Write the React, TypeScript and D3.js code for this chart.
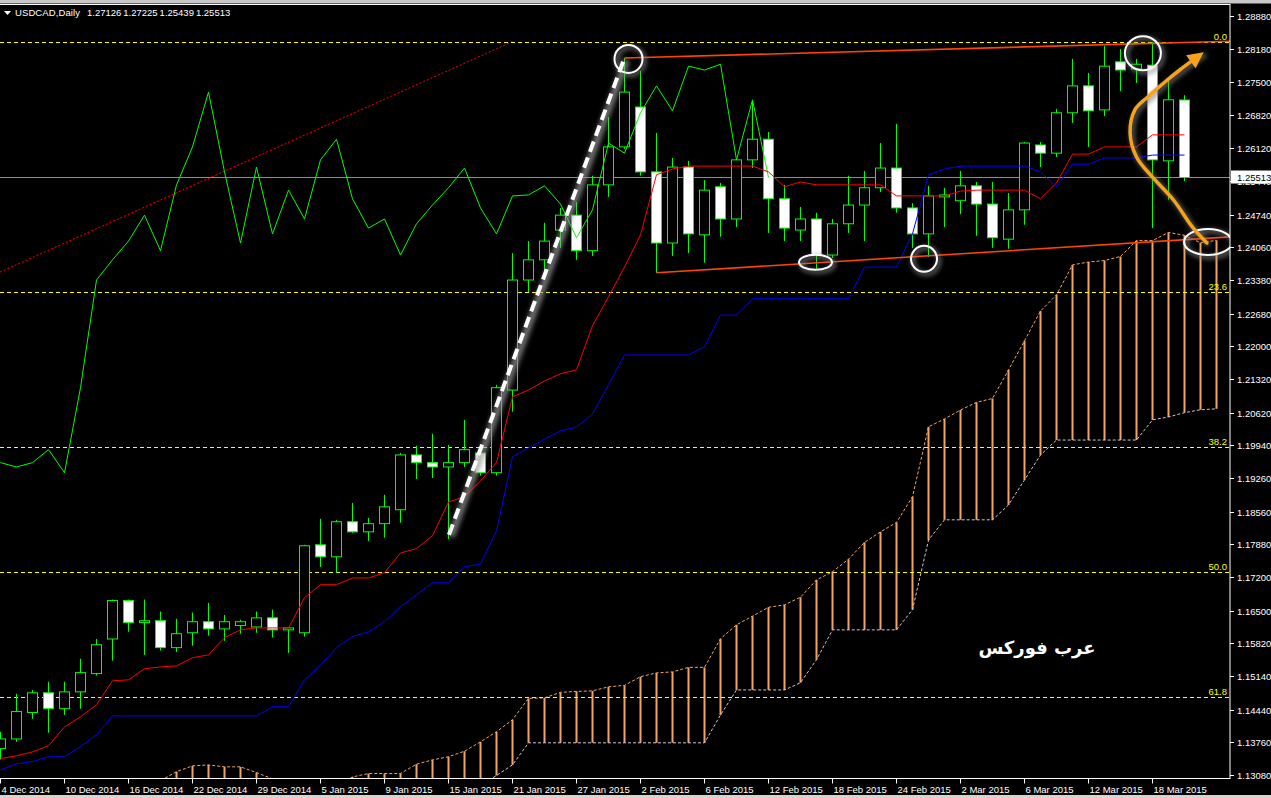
import React from 'react';
import * as d3 from 'd3';

const W = 1271;
const H = 798;

// Daily bars, 4 Dec 2014 .. 20 Mar 2015
const barDates = [
  '2014-12-04', '2014-12-05', '2014-12-08', '2014-12-09', '2014-12-10', '2014-12-11', '2014-12-12', '2014-12-15', '2014-12-16', '2014-12-17',
  '2014-12-18', '2014-12-19', '2014-12-22', '2014-12-23', '2014-12-24', '2014-12-26', '2014-12-29', '2014-12-30', '2014-12-31', '2015-01-02',
  '2015-01-05', '2015-01-06', '2015-01-07', '2015-01-08', '2015-01-09', '2015-01-12', '2015-01-13', '2015-01-14', '2015-01-15', '2015-01-16',
  '2015-01-19', '2015-01-20', '2015-01-21', '2015-01-22', '2015-01-23', '2015-01-26', '2015-01-27', '2015-01-28', '2015-01-29', '2015-01-30',
  '2015-02-02', '2015-02-03', '2015-02-04', '2015-02-05', '2015-02-06', '2015-02-09', '2015-02-10', '2015-02-11', '2015-02-12', '2015-02-13',
  '2015-02-16', '2015-02-17', '2015-02-18', '2015-02-19', '2015-02-20', '2015-02-23', '2015-02-24', '2015-02-25', '2015-02-26', '2015-02-27',
  '2015-03-02', '2015-03-03', '2015-03-04', '2015-03-05', '2015-03-06', '2015-03-09', '2015-03-10', '2015-03-11', '2015-03-12', '2015-03-13',
  '2015-03-16', '2015-03-17', '2015-03-18', '2015-03-19', '2015-03-20',
];

const opens = [
  1.1363, 1.1383, 1.1438, 1.1479, 1.1446, 1.1481, 1.1519, 1.1591, 1.1671, 1.1625,
  1.1629, 1.1573, 1.1604, 1.1627, 1.1612, 1.1619, 1.1616, 1.1635, 1.1610, 1.1604,
  1.1787, 1.1762, 1.1835, 1.1814, 1.1831, 1.1860, 1.1974, 1.1958, 1.1949, 1.1958,
  1.1978, 1.1937, 1.2109, 1.2338, 1.2380, 1.2442, 1.2473, 1.2399, 1.2536, 1.2615,
  1.2698, 1.2563, 1.2415, 1.2573, 1.2432, 1.2532, 1.2465, 1.2588, 1.2631, 1.2507,
  1.2442, 1.2465, 1.2390, 1.2455, 1.2494, 1.2530, 1.2571, 1.2488, 1.2434, 1.2511,
  1.2503, 1.2534, 1.2496, 1.2423, 1.2484, 1.2619, 1.2602, 1.2686, 1.2742, 1.2692,
  1.2792, 1.2777, 1.2785, 1.2586, 1.27126,
];
const highs = [
  1.1398, 1.1477, 1.1485, 1.1502, 1.1502, 1.1550, 1.1591, 1.1673, 1.1673, 1.1673,
  1.1648, 1.1633, 1.1646, 1.1666, 1.1641, 1.1631, 1.1648, 1.1652, 1.1616, 1.1787,
  1.1841, 1.1839, 1.1874, 1.1843, 1.1891, 1.1978, 1.1993, 1.2018, 1.1995, 1.2047,
  1.1985, 1.2120, 1.2394, 1.2419, 1.2457, 1.2488, 1.2500, 1.2555, 1.2677, 1.2800,
  1.2773, 1.2644, 1.2592, 1.2586, 1.2546, 1.2540, 1.2592, 1.2711, 1.2646, 1.2536,
  1.2490, 1.2478, 1.2465, 1.2555, 1.2565, 1.2623, 1.2663, 1.2498, 1.2534, 1.2530,
  1.2565, 1.2542, 1.2542, 1.2519, 1.2625, 1.2625, 1.2694, 1.2798, 1.2769, 1.2825,
  1.2819, 1.2798, 1.2833, 1.2754, 1.27225,
];
const lows = [
  1.1340, 1.1377, 1.1425, 1.1396, 1.1433, 1.1446, 1.1515, 1.1546, 1.1606, 1.1558,
  1.1567, 1.1564, 1.1577, 1.1598, 1.1587, 1.1602, 1.1604, 1.1594, 1.1562, 1.1596,
  1.1741, 1.1729, 1.1812, 1.1795, 1.1802, 1.1833, 1.1924, 1.1926, 1.1799, 1.1949,
  1.1931, 1.1931, 1.2064, 1.2313, 1.2338, 1.2405, 1.2380, 1.2388, 1.2511, 1.2611,
  1.2555, 1.2353, 1.2388, 1.2394, 1.2374, 1.2428, 1.2448, 1.2571, 1.2436, 1.2419,
  1.2419, 1.2361, 1.2384, 1.2436, 1.2419, 1.2521, 1.2478, 1.2405, 1.2386, 1.2448,
  1.2475, 1.2430, 1.2405, 1.2403, 1.2453, 1.2573, 1.2594, 1.2665, 1.2615, 1.2679,
  1.2731, 1.2748, 1.2446, 1.2505, 1.25439,
];
const closes = [
  1.1383, 1.1440, 1.1479, 1.1446, 1.1481, 1.1521, 1.1579, 1.1671, 1.1625, 1.1629,
  1.1573, 1.1602, 1.1627, 1.1612, 1.1627, 1.1627, 1.1635, 1.1610, 1.1614, 1.1785,
  1.1762, 1.1835, 1.1814, 1.1831, 1.1866, 1.1974, 1.1958, 1.1949, 1.1958, 1.1985,
  1.1937, 1.2114, 1.2338, 1.2380, 1.2419, 1.2473, 1.2399, 1.2536, 1.2615, 1.2729,
  1.2563, 1.2415, 1.2573, 1.2434, 1.2525, 1.2465, 1.2588, 1.2631, 1.2507, 1.2446,
  1.2465, 1.2390, 1.2455, 1.2494, 1.2530, 1.2571, 1.2488, 1.2434, 1.2513, 1.2515,
  1.2534, 1.2496, 1.2426, 1.2484, 1.2623, 1.2602, 1.2686, 1.2742, 1.2690, 1.2783,
  1.2775, 1.2787, 1.2588, 1.2713, 1.25513,
];

// Ichimoku Kinko Hyo (9, 26, 52)
const tenkan = [
  1.1342, 1.1348, 1.1356, 1.1369, 1.1408, 1.1429, 1.1454, 1.1504, 1.1506, 1.1529,
  1.1533, 1.1535, 1.1552, 1.1558, 1.1594, 1.1610, 1.1614, 1.1614, 1.1614, 1.1677,
  1.1704, 1.1704, 1.1718, 1.1718, 1.1729, 1.1770, 1.1779, 1.1806, 1.1876, 1.1887,
  1.1920, 1.1958, 1.2095, 1.2109, 1.2128, 1.2143, 1.2151, 1.2243, 1.2303, 1.2365,
  1.2432, 1.2557, 1.2569, 1.2575, 1.2575, 1.2575, 1.2575, 1.2575, 1.2563, 1.2532,
  1.2542, 1.2536, 1.2536, 1.2536, 1.2536, 1.2536, 1.2513, 1.2513, 1.2513, 1.2513,
  1.2523, 1.2525, 1.2525, 1.2525, 1.2525, 1.2507, 1.2540, 1.2600, 1.2600, 1.2615,
  1.2615, 1.2615, 1.2640, 1.2640, 1.2640,
];
const kijun = [
  1.1319, 1.1331, 1.1336, 1.1346, 1.1346, 1.1367, 1.1392, 1.1431, 1.1431, 1.1431,
  1.1431, 1.1431, 1.1431, 1.1431, 1.1431, 1.1431, 1.1431, 1.1450, 1.1450, 1.1506,
  1.1537, 1.1573, 1.1596, 1.1606, 1.1627, 1.1658, 1.1683, 1.1708, 1.1708, 1.1741,
  1.1747, 1.1816, 1.1970, 1.1989, 1.2007, 1.2024, 1.2032, 1.2059, 1.2120, 1.2182,
  1.2182, 1.2182, 1.2182, 1.2182, 1.2199, 1.2265, 1.2265, 1.2299, 1.2299, 1.2299,
  1.2299, 1.2299, 1.2299, 1.2299, 1.2365, 1.2365, 1.2365, 1.2434, 1.2557, 1.2569,
  1.2575, 1.2575, 1.2575, 1.2575, 1.2575, 1.2563, 1.2532, 1.2579, 1.2579, 1.2592,
  1.2592, 1.2592, 1.2598, 1.2598, 1.2598,
];
// Senkou span A for bars 8..25 (older tenkan/kijun values are off the chart)
const spanAEarlyStart = 8;
const spanAEarly = [
  1.1270, 1.1277, 1.1296, 1.1315, 1.1327, 1.1329, 1.1325, 1.1325, 1.1313, 1.1300,
  1.1282, 1.1282, 1.1282, 1.1282, 1.1304, 1.1311, 1.1311, 1.1311,
];
// Senkou span B, bars 28..76
const spanBStart = 28;
const spanB = [
  1.1257, 1.1267, 1.1286, 1.1307, 1.1329,
  1.1375, 1.1375, 1.1375, 1.1375, 1.1375, 1.1375, 1.1375, 1.1375, 1.1375, 1.1375, 1.1375, 1.1375,
  1.1433, 1.1485, 1.1485, 1.1485, 1.1485, 1.1500, 1.1548,
  1.1610, 1.1610, 1.1610, 1.1610, 1.1610, 1.1652, 1.1797,
  1.1839, 1.1839, 1.1839, 1.1839, 1.1870, 1.1922, 1.1974,
  1.2005, 1.2005, 1.2005, 1.2005, 1.2005, 1.2005,
  1.2047, 1.2053, 1.2062, 1.2068, 1.2070,
];

const priceTicks = [
  1.2888, 1.2818, 1.2750, 1.2682, 1.2612, 1.2544, 1.2474, 1.2406, 1.2338, 1.2268, 1.2200, 1.2132,
  1.2062, 1.1994, 1.1926, 1.1856, 1.1788, 1.1720, 1.1650, 1.1582, 1.1514, 1.1444, 1.1376, 1.1308,
];

const fibLevels = [0, 23.6, 38.2, 50, 61.8];
const fibFrom = { bar: -115.4, price: 1.0627 };
const fibTo = { bar: 32, price: 1.2834 };

const upperTrend = [{ bar: 39, price: 1.2800 }, { bar: 77, price: 1.2835 }];
const lowerTrend = [{ bar: 41, price: 1.2353 }, { bar: 77, price: 1.2428 }];

const symbol = 'USDCAD,Daily';
const arabicLabel = 'عرب فوركس';

// Drawn objects (time in bars, price)
const dashedTrend = [{ bar: 28.03, price: 1.1808 }, { bar: 39.0, price: 1.2800 }];
const ellipses = [
  { bar: 39.25, price: 1.2798, rx: 14, ry: 14 },
  { bar: 50.94, price: 1.2375, rx: 16.5, ry: 7.5 },
  { bar: 57.72, price: 1.2382, rx: 13, ry: 13 },
  { bar: 71.4, price: 1.2810, rx: 18, ry: 17 },
  { bar: 75.47, price: 1.2417, rx: 24, ry: 13 },
];
const orangeCurve = [
  { bar: 75.4, price: 1.2415 },
  { bar: 74.5, price: 1.2448 },
  { bar: 73.3, price: 1.2505 },
  { bar: 72.0, price: 1.2552 },
  { bar: 71.0, price: 1.2594 },
  { bar: 70.6, price: 1.2644 },
  { bar: 70.9, price: 1.2692 },
  { bar: 71.7, price: 1.2719 },
  { bar: 72.7, price: 1.2748 },
  { bar: 73.7, price: 1.2775 },
  { bar: 75.2, price: 1.2812 },
];

const FONT = 'Liberation Sans, Arial, sans-serif';
const FS = 9.5;

export default function App() {
  const chartRight = 1230;
  const chartTop = 4.5;
  const chartBottom = 778.5;

  const x = d3.scaleLinear().domain([0, 76]).range([0.5, 1216.5]);
  const y = d3.scaleLinear().domain([1.1308, 1.2888]).range([775, 15.7]);
  const n = closes.length;
  const bars = d3.range(n);

  const line = d3
    .line<[number, number]>()
    .x((d) => x(d[0]))
    .y((d) => y(d[1]));

  const tenkanPath = line(bars.map((i) => [i, tenkan[i]] as [number, number])) || '';
  const kijunPath = line(bars.map((i) => [i, kijun[i]] as [number, number])) || '';
  const chikouPath = line(bars.map((i) => [i - 26, closes[i]] as [number, number])) || '';

  const spanA: [number, number][] = [];
  spanAEarly.forEach((p, k) => spanA.push([spanAEarlyStart + k, p]));
  for (let i = 0; i + 26 <= 76; i++) spanA.push([i + 26, (tenkan[i] + kijun[i]) / 2]);
  const spanBPts: [number, number][] = spanB.map((p, k) => [spanBStart + k, p]);
  const spanBMap = new Map<number, number>(spanBPts);
  const spanAPath = line(spanA) || '';
  const spanBPath = line(spanBPts) || '';

  const fibPrice = (lvl: number) => fibTo.price - (lvl / 100) * (fibTo.price - fibFrom.price);

  const timeFmt = d3.timeFormat('%-d %b %Y');
  const parse = d3.timeParse('%Y-%m-%d');
  const timeLabels = bars.filter((i) => i % 4 === 0).map((i) => ({ i, label: timeFmt(parse(barDates[i]) as Date) }));

  const lastClose = closes[n - 1];
  const pFmt = d3.format('.5f');

  const extend = (pts: { bar: number; price: number }[]) => {
    const [a, b] = pts;
    return { x1: x(a.bar), y1: y(a.price), x2: x(b.bar), y2: y(b.price) };
  };
  const up = extend(upperTrend);
  const lo = extend(lowerTrend);
  const fibLine = extend([fibFrom, fibTo]);
  const dl = extend(dashedTrend);

  const curvePts = orangeCurve.map((p) => [x(p.bar), y(p.price)] as [number, number]);
  const curvePath = d3.line().curve(d3.curveCatmullRom.alpha(0.5))(curvePts) || '';
  const tip = curvePts[curvePts.length - 1];
  const prev = curvePts[curvePts.length - 2];
  const dx = tip[0] - prev[0];
  const dy = tip[1] - prev[1];
  const len = Math.hypot(dx, dy);
  const ux = dx / len;
  const uy = dy / len;
  const aL = 16;
  const aW = 8;
  const bx = tip[0] - ux * aL;
  const by = tip[1] - uy * aL;
  const arrowHead = `M${tip[0]},${tip[1]} L${bx - uy * aW},${by + ux * aW} L${bx + uy * aW},${by - ux * aW} Z`;
  const curveBody = d3.line().curve(d3.curveCatmullRom.alpha(0.5))([
    ...curvePts.slice(0, -1),
    [tip[0] - ux * aL * 0.6, tip[1] - uy * aL * 0.6],
  ]) || '';

  const headerVals = [opens[n - 1], highs[n - 1], lows[n - 1], closes[n - 1]];

  return (
    <svg
      width={W}
      height={H}
      viewBox={`0 0 ${W} ${H}`}
      style={{ position: 'absolute', left: 0, top: 0, display: 'block', background: '#000' }}
    >
      <defs>
        <clipPath id="plot">
          <rect x={0} y={chartTop + 0.5} width={chartRight} height={chartBottom - chartTop - 1} />
        </clipPath>
        <filter id="glow" x="-50%" y="-50%" width="200%" height="200%">
          <feGaussianBlur stdDeviation="2.5" />
        </filter>
      </defs>
      <rect x={0} y={0} width={W} height={H} fill="#000" />
      <rect x={0} y={0} width={W} height={3.5} fill="#c8c8c8" />
      <rect x={0} y={795} width={W} height={3} fill="#d8d4c8" />

      <g clipPath="url(#plot)">
        {/* Kumo hatch */}
        {spanA.map(([j, a]) => {
          const b = spanBMap.has(j) ? (spanBMap.get(j) as number) : 1.1;
          return (
            <line
              key={`h${j}`}
              x1={x(j)}
              x2={x(j)}
              y1={y(a)}
              y2={y(b)}
              stroke={a >= b ? '#F4A460' : '#D8BFD8'}
              strokeWidth={2}
            />
          );
        })}
        <path d={spanAPath} fill="none" stroke="#F4A460" strokeWidth={1} strokeDasharray="3,2" />
        <path d={spanBPath} fill="none" stroke="#D8BFD8" strokeWidth={1} strokeDasharray="3,2" />

        {/* Fibonacci */}
        <line {...fibLine} stroke="#ff0000" strokeWidth={1} strokeDasharray="2,2" />
        {fibLevels.map((lv) => (
          <g key={`f${lv}`}>
            <line
              x1={0}
              x2={chartRight}
              y1={Math.round(y(fibPrice(lv))) + 0.5}
              y2={Math.round(y(fibPrice(lv))) + 0.5}
              stroke="#ffff00"
              strokeWidth={1}
              strokeDasharray="4,3"
            />
            <text
              x={1227}
              y={Math.round(y(fibPrice(lv))) - 2.5}
              fill="#ffff00"
              fontSize={FS}
              fontFamily={FONT}
              textAnchor="end"
            >
              {lv.toFixed(1)}
            </text>
          </g>
        ))}

        {/* current price line */}
        <line x1={0} x2={chartRight} y1={y(lastClose)} y2={y(lastClose)} stroke="#8c8c8c" strokeWidth={1} />

        {/* candles */}
        {bars.map((i) => {
          const cx = x(i);
          const o = opens[i];
          const c = closes[i];
          const bull = c >= o;
          const yt = y(Math.max(o, c));
          const yb = y(Math.min(o, c));
          return (
            <g key={`c${i}`}>
              <line x1={cx} x2={cx} y1={y(highs[i])} y2={y(lows[i])} stroke="#00ff00" strokeWidth={1} />
              <rect
                x={cx - 5}
                y={yt}
                width={10}
                height={Math.max(0.01, yb - yt)}
                fill={bull ? '#000' : '#fff'}
                stroke="#00ff00"
                strokeWidth={1}
              />
            </g>
          );
        })}

        {/* Ichimoku lines */}
        <path d={chikouPath} fill="none" stroke="#00ff00" strokeWidth={1} />
        <path d={tenkanPath} fill="none" stroke="#ff0000" strokeWidth={1} />
        <path d={kijunPath} fill="none" stroke="#0000ff" strokeWidth={1} />

        {/* channel trend lines */}
        <line {...up} stroke="#ff4500" strokeWidth={1.6} />
        <line {...lo} stroke="#ff4500" strokeWidth={1.6} />

        {/* drawn annotations */}
        <g filter="url(#glow)" opacity={0.75} transform="translate(2,2)">
          <line {...dl} stroke="#9a9a9a" strokeWidth={7} />
          {ellipses.map((e, k) => (
            <ellipse key={`ge${k}`} cx={x(e.bar)} cy={y(e.price)} rx={e.rx} ry={e.ry} fill="none" stroke="#8a8a8a" strokeWidth={4} />
          ))}
          <path d={curvePath} fill="none" stroke="#7a7a7a" strokeWidth={5} />
        </g>
        <line {...dl} stroke="#ffffff" strokeWidth={4} strokeDasharray="11,6" />
        {ellipses.map((e, k) => (
          <ellipse key={`e${k}`} cx={x(e.bar)} cy={y(e.price)} rx={e.rx} ry={e.ry} fill="none" stroke="#ffffff" strokeWidth={2} />
        ))}
        <path d={curveBody} fill="none" stroke="#f7a21b" strokeWidth={3.5} strokeLinecap="round" />
        <path d={arrowHead} fill="#f7a21b" />

        <text
          x={1037}
          y={654}
          fill="#ffffff"
          fontSize={18}
          fontWeight="bold"
          fontFamily="DejaVu Sans, sans-serif"
          textAnchor="middle"
        >
          {arabicLabel}
        </text>
      </g>

      {/* frame */}
      <line x1={0} x2={chartRight + 0.5} y1={chartTop} y2={chartTop} stroke="#fff" strokeWidth={1} />
      <line x1={0} x2={chartRight + 0.5} y1={chartBottom} y2={chartBottom} stroke="#fff" strokeWidth={1} />
      <line x1={chartRight} x2={chartRight} y1={chartTop} y2={chartBottom} stroke="#fff" strokeWidth={1} />

      {/* price axis */}
      {priceTicks.map((p) => {
        const yy = Math.round(y(p)) + 0.5;
        return (
          <g key={`p${p}`}>
            <line x1={chartRight} x2={chartRight + 4} y1={yy} y2={yy} stroke="#fff" strokeWidth={1} />
            <text x={1237} y={yy + 3.5} fill="#fff" fontSize={FS} fontFamily={FONT}>
              {pFmt(p)}
            </text>
          </g>
        );
      })}
      <rect x={1231} y={y(lastClose) - 7} width={40} height={13} fill="#fff" />
      <text x={1237} y={y(lastClose) + 3.4} fill="#000" fontSize={FS} fontFamily={FONT}>
        {pFmt(lastClose)}
      </text>

      {/* time axis */}
      {timeLabels.map(({ i, label }) => (
        <g key={`t${i}`}>
          <line x1={x(i)} x2={x(i)} y1={chartBottom} y2={chartBottom + 5} stroke="#fff" strokeWidth={1} />
          <text x={x(i) + 1} y={793} fill="#fff" fontSize={FS} fontFamily={FONT}>
            {label}
          </text>
        </g>
      ))}

      {/* header */}
      <path d="M4,11 L11,11 L7.5,15 Z" fill="#fff" />
      <text x={15} y={16} fill="#fff" fontSize={FS} fontFamily={FONT} textLength={65} lengthAdjust="spacing">
        {symbol}
      </text>
      {headerVals.map((v, k) => (
        <text key={`hd${k}`} x={87 + k * 36.3} y={16} fill="#fff" fontSize={FS} fontFamily={FONT}>
          {pFmt(v)}
        </text>
      ))}
    </svg>
  );
}
